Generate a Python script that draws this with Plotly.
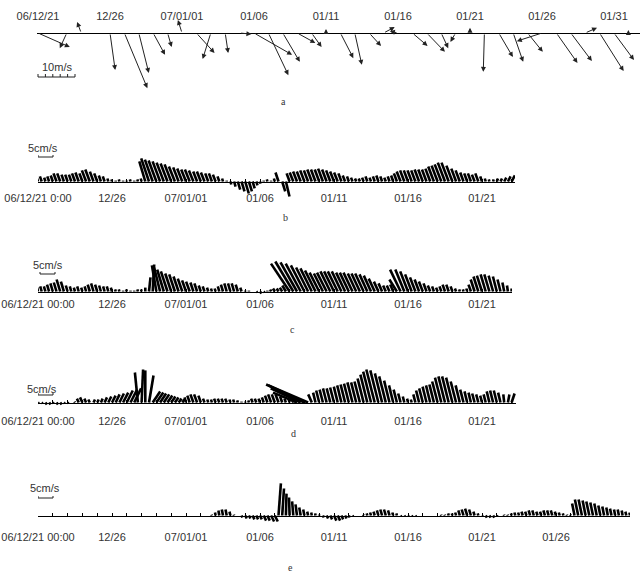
import plotly.graph_objects as go

# ------------------------------------------------------------------
# DATA
# Panel a: daily wind vectors (m/s), east (u) and north (v) components
wind_u = [8.6, 0.0, -1.9, -1.1, -0.3, 1.4, 6.2, 2.7, 3.2, 1.1,
          -1.1, 4.9, -2.2, 0.8, 3.2, 10.3, 5.4, 4.6, 4.9, 2.7,
          0.0, 3.5, 1.9, 3.2, 3.0, -2.2, 4.1, 4.9, 1.9, -1.4,
          0.0, -0.3, 3.8, 2.7, 4.1, -6.8, 5.7, 5.7, 3.2, 6.5,
          5.4, 0.0]
wind_v = [-3.8, -0.6, -4.1, 3.0, 0.5, -10.0, -14.9, -10.8, -5.9, -3.8,
          3.5, -5.4, -7.0, -5.4, -0.3, -5.9, -11.4, -7.8, -2.7, -3.8,
          1.1, -6.8, -8.6, -3.5, 1.6, 0.5, -3.5, -5.1, -4.1, -2.4,
          1.4, -10.5, -6.5, -7.8, -5.1, -2.2, -8.1, -7.6, 1.4, -10.3,
          -7.3, 0.8]
wind_step = 1.0          # days between wind vectors

# Panels b-e: 6-hourly current vectors (cm/s)
cur_step = 0.25          # days between current vectors

b_u = [-0.3, -0.6, -0.4, -0.6, -0.7, -1.0, -1.0, -0.8, -0.8, -0.8,
       -1.0, -1.1, -1.0, -1.4, -1.5, -1.2, -1.0, -0.7, -0.6, -0.3,
       -0.2, 0.0, -0.2, 0.0, 0.0, -0.2, 0.0, -0.2, -0.3, -2.0,
       -2.6, -2.6, -2.6, -2.5, -2.4, -2.3, -2.2, -2.0, -1.8, -1.7,
       -1.6, -1.6, -1.5, -1.3, -1.3, -1.2, -1.0, -1.0, -0.9, -0.6,
       -0.3, 0.0, 0.3, 0.5, 0.8, 1.0, 1.2, 1.0, 0.7, 0.4,
       0.2, 0.0, -0.2, 0.0, -0.3, -1.0, 1.0, 1.2, -1.0, -1.2,
       -1.3, -1.3, -1.4, -1.4, -1.5, -1.5, -1.5, -1.6, -1.5, -1.4,
       -1.3, -1.2, -1.0, -0.8, -0.6, -0.5, -0.4, -0.4, -0.5, -0.6,
       -0.5, -0.6, -0.7, -0.6, -0.5, -0.6, -0.7, -1.0, -1.3, -1.4,
       -1.4, -1.4, -1.4, -1.5, -1.5, -1.5, -1.6, -1.9, -2.0, -2.2,
       -2.4, -2.4, -2.0, -1.6, -1.4, -1.1, -1.0, -1.0, -0.9, -1.0,
       -0.6, -0.3, -0.2, 0.2, 0.4, 0.5, 0.7, 0.9, 1.1]
b_v = [1.0, 1.7, 1.3, 1.7, 2.0, 2.7, 2.7, 2.3, 2.3, 2.3,
       2.7, 3.0, 2.7, 3.7, 4.0, 3.3, 2.7, 2.0, 1.7, 1.0,
       0.7, 0.3, 0.7, 0.3, 0.3, 0.7, 0.3, 0.7, 1.0, 6.7,
       7.7, 7.3, 7.0, 6.7, 6.3, 6.0, 5.7, 5.0, 4.7, 4.3,
       4.0, 4.0, 3.7, 3.3, 3.3, 3.0, 2.7, 2.7, 2.3, 1.7,
       1.0, 0.3, -1.0, -1.7, -2.7, -3.3, -4.0, -3.3, -2.3, -1.3,
       -0.7, 0.3, 0.7, 0.3, 1.0, 3.0, -3.3, -5.0, 2.7, 3.0,
       3.3, 3.3, 3.7, 3.7, 4.0, 4.0, 4.0, 4.3, 4.0, 3.7,
       3.3, 3.0, 2.7, 2.0, 1.7, 1.3, 1.0, 1.0, 1.3, 1.7,
       1.3, 1.7, 2.0, 1.7, 1.3, 1.7, 2.0, 2.7, 3.3, 3.7,
       3.7, 3.7, 3.7, 4.0, 4.0, 4.0, 4.3, 5.0, 5.3, 5.7,
       6.3, 6.3, 5.3, 4.3, 3.7, 3.0, 2.7, 2.7, 2.3, 2.7,
       1.7, 1.0, 0.7, 0.7, 1.0, 1.0, 1.3, 1.7, 2.0]

c_u = [-0.3, -0.5, -0.5, -0.7, -0.8, -0.9, -1.2, -1.0, -0.6, -0.5,
       -0.4, -0.5, -0.4, -0.5, -0.7, -0.8, -0.7, -0.6, -0.5, -0.5,
       -0.4, -0.2, -0.2, 0.0, -0.2, 0.0, 0.0, -0.2, -0.2, 0.0,
       0.5, 0.5, -1.5, -2.0, -2.2, -2.2, -2.0, -1.9, -1.7, -1.5,
       -1.3, -1.2, -1.0, -0.9, -0.7, -0.6, -0.4, -0.3, -0.3, -0.5,
       -0.7, -0.8, -0.8, -0.8, -0.7, -0.4, 0.0, 0.0, 0.0, 0.3,
       0.5, 0.3, 0.0, -0.3, -0.6, -0.6, -0.8, -1.2, -6.2, -6.0,
       -5.5, -5.0, -4.5, -4.0, -3.8, -3.5, -3.2, -3.0, -3.2, -3.3,
       -3.3, -3.3, -3.2, -3.0, -3.0, -3.0, -2.8, -2.8, -2.8, -2.6,
       -2.4, -2.0, -1.5, -1.2, -0.9, -0.9, -1.0, -2.5, -3.5, -3.0,
       -2.6, -2.2, -1.8, -1.5, -1.3, -1.0, -0.8, -0.6, -0.5, -0.6,
       -0.8, -0.8, -0.6, -0.4, -0.2, -0.2, -0.3, -0.8, -1.3, -1.6,
       -1.7, -1.7, -1.7, -1.5, -1.3, -1.0, -0.6, -0.3, 0.0]
c_v = [1.3, 1.7, 1.7, 2.3, 2.7, 3.0, 4.0, 3.3, 2.0, 1.7,
       1.3, 1.7, 1.3, 1.7, 2.3, 2.7, 2.3, 2.0, 1.7, 1.7,
       1.3, 0.7, 0.7, 0.3, 0.7, 0.3, 0.3, 0.7, 0.7, 1.3,
       4.7, 9.0, 8.7, 8.0, 7.3, 6.7, 6.0, 5.7, 5.0, 4.3,
       3.7, 3.3, 3.0, 2.7, 2.0, 1.7, 1.3, 1.0, 1.0, 1.7,
       2.3, 2.7, 2.7, 2.7, 2.3, 1.3, 0.3, 0.3, 0.0, -0.3,
       -0.7, -0.3, 0.3, 0.7, 1.0, 1.0, 1.3, 2.0, 9.3, 10.0,
       9.7, 9.3, 8.7, 8.0, 7.7, 7.0, 6.3, 6.0, 6.3, 6.7,
       6.7, 6.7, 6.7, 6.3, 6.3, 6.3, 6.0, 6.0, 6.0, 5.7,
       5.3, 4.3, 3.3, 2.7, 2.0, 2.0, 2.3, 4.0, 7.3, 7.3,
       6.7, 5.7, 4.7, 4.0, 3.3, 2.7, 2.0, 1.7, 1.3, 1.7,
       2.3, 2.3, 1.7, 1.0, 0.7, 0.7, 1.0, 2.3, 4.0, 5.0,
       5.3, 5.7, 5.7, 5.3, 5.0, 4.0, 3.0, 2.0, 1.0]

d_u = [0.3, 0.3, 0.5, 0.5, 0.3, 0.5, 0.5, 0.3, 0.3, 0.0,
       -0.2, -0.6, -0.8, -0.6, -0.5, 0.5, 0.5, 0.6, 0.8, 1.0,
       1.2, 1.3, 1.5, 1.7, 2.0, 2.2, 2.3, -1.0, 0.5, 0.0,
       1.5, 2.5, 2.3, 2.0, 1.8, 1.6, 1.4, 1.2, 1.0, 0.7,
       -0.5, -0.8, -1.0, -1.0, -0.8, -0.5, -0.3, -0.3, -0.5, -0.5,
       -0.5, -0.5, -0.3, -0.3, -0.2, 0.0, 0.0, -0.2, -0.5, -0.5,
       -0.5, -0.6, -0.8, -1.0, -1.0, -1.0, -0.7, -0.5, -0.3, -0.5,
       -8.0, -10.0, -12.0, -14.0, -1.2, -0.8, -1.0, -1.1, -1.2, -1.2,
       -1.3, -1.3, -1.4, -1.5, -1.6, -1.7, -1.7, -1.8, -2.0, -2.3,
       -2.6, -2.8, -2.7, -2.4, -2.2, -1.8, -1.4, -1.1, -0.8, -0.5,
       -0.3, -0.3, -0.7, -1.0, -1.2, -1.3, -1.4, -1.5, -1.8, -2.1,
       -2.2, -2.2, -2.1, -1.8, -1.4, -1.1, -0.9, -0.8, -0.8, -0.7,
       -0.6, -0.7, -0.9, -1.0, -1.0, -0.8, -0.3, 0.5, 1.0]
d_v = [-0.3, -0.3, -0.7, -0.7, -0.3, -0.7, -0.7, -0.3, -0.3, 0.0,
       0.3, 1.3, 1.7, 1.3, 1.0, 1.0, 1.0, 1.3, 1.7, 2.0,
       2.3, 2.7, 3.0, 3.3, 4.0, 4.3, 4.7, 10.0, 11.0, 10.7,
       9.0, 3.7, 3.3, 3.0, 2.7, 2.3, 2.0, 1.7, 1.3, 1.0,
       1.7, 2.3, 2.7, 2.7, 2.3, 1.3, 1.0, 1.0, 1.3, 1.3,
       1.3, 1.3, 1.0, 1.0, 0.7, 0.3, 0.3, 0.7, 1.3, 1.3,
       1.3, 1.7, 2.3, 2.7, 2.7, 2.7, 2.0, 1.3, 1.0, 1.3,
       3.3, 4.7, 5.7, 6.0, 2.7, 3.3, 4.0, 4.3, 4.7, 4.7,
       5.0, 5.3, 5.7, 6.0, 6.3, 6.7, 6.7, 7.0, 8.0, 9.3,
       10.3, 11.0, 10.7, 9.7, 8.7, 7.3, 5.7, 4.3, 3.0, 2.0,
       1.3, 1.0, 2.7, 4.0, 4.7, 5.3, 5.7, 6.0, 7.0, 8.3,
       8.7, 8.7, 8.3, 7.0, 5.7, 4.3, 3.7, 3.3, 3.0, 2.7,
       2.3, 2.7, 3.7, 4.0, 4.0, 3.3, 2.7, 2.7, 3.0]

e_u = [0.0] * 47 + [
       -0.1, -0.2, -0.3, -0.4, -0.4, -0.3, -0.1, 0.0,
       0.3, 0.5, 0.5, 0.6, 0.6, 0.6, 0.8, 0.8, 1.0, 1.0,
       0.8, 0.6, 0.2, -0.2, -0.4, -0.5, -0.5, -0.4, -0.3, -0.2, -0.1, 0.0,
       0.3, 0.5, 0.6, 0.8, 0.8, 0.6, 0.5, 0.3, 0.2, 0.0, 0.0,
       -0.1, -0.2, -0.3, -0.4, -0.5, -0.6, -0.6, -0.5, -0.3, -0.2,
       0.2, 0.2, 0.2, 0.2, 0.2, 0.0, 0.0, 0.0, 0.0, 0.0, 0.0,
       -0.1, -0.1, -0.2, -0.2, -0.3, -0.5, -0.6, -0.7, -0.6, -0.4, -0.2,
       0.2, 0.4, 0.4, 0.4, 0.2, 0.0,
       -0.1, -0.1, -0.2, -0.3, -0.3, -0.4, -0.4, -0.5, -0.5, -0.4,
       -0.4, -0.5, -0.5, -0.5, -0.4, -0.3, -0.2, -0.1, -0.1,
       -0.8, -1.1, -1.1, -1.0, -1.0, -0.9, -0.8, -0.7, -0.6, -0.5,
       -0.5, -0.4, -0.4, -0.3, -0.3, -0.2]
e_v = [0.0] * 47 + [
       0.3, 1.0, 1.7, 2.0, 2.0, 1.3, 0.3, 0.0,
       -0.7, -1.0, -1.0, -1.3, -1.3, -1.3, -1.7, -1.7, -2.0, -2.0,
       10.7, 9.0, 7.3, 6.0, 4.7, 3.7, 2.7, 2.0, 1.3, 1.0, 0.7, 0.3,
       -0.7, -1.0, -1.3, -1.7, -1.7, -1.3, -1.0, -0.7, -0.3, 0.0, 0.0,
       0.3, 0.7, 1.0, 1.3, 1.7, 2.0, 2.0, 1.7, 1.0, 0.7,
       -0.3, -0.3, -0.3, -0.3, -0.3, 0.0, 0.0, 0.0, 0.0, 0.0, 0.0,
       0.3, 0.3, 0.7, 0.7, 1.0, 1.7, 2.0, 2.3, 2.0, 1.3, 0.7,
       -0.3, -0.7, -0.7, -0.7, -0.3, 0.0,
       0.3, 0.3, 0.7, 1.0, 1.0, 1.3, 1.3, 1.7, 1.7, 1.3,
       1.3, 1.7, 1.7, 1.7, 1.3, 1.0, 0.7, 0.3, 0.3,
       4.0, 5.3, 5.3, 5.0, 4.7, 4.3, 4.0, 3.3, 3.0, 2.7,
       2.3, 2.0, 2.0, 1.7, 1.3, 1.0]

# tick labels (day offsets from 2006-12-21 00:00)
label_days_a = [0, 5, 10, 15, 20, 25, 30, 35, 40]
labels_a = ["06/12/21", "12/26", "07/01/01", "01/06", "01/11",
            "01/16", "01/21", "01/26", "01/31"]
label_days_cur = [0, 5, 10, 15, 20, 25, 30, 35]
labels_b = ["06/12/21 0:00", "12/26", "07/01/01", "01/06", "01/11",
            "01/16", "01/21"]
labels_cde = ["06/12/21 00:00", "12/26", "07/01/01", "01/06", "01/11",
              "01/16", "01/21", "01/26"]
scale_wind = 10     # m/s
scale_cur = 5       # cm/s

# ------------------------------------------------------------------
# LAYOUT (pixel geometry of each panel)
W, H = 640, 574
X0 = 38
FONT = "Liberation Sans, Arial, sans-serif"
cfg = {
    'a': dict(axis=33, top=0, bottom=96, left=37, right=640, ppd=14.4, ppu=3.7, standoff=9),
    'b': dict(axis=181.5, top=136, bottom=214, left=38, right=515, ppd=14.8, ppu=3.0, standoff=6),
    'c': dict(axis=291.5, top=245, bottom=306, left=38, right=512, ppd=14.8, ppu=3.0, standoff=2),
    'd': dict(axis=402.5, top=352, bottom=416, left=38, right=516, ppd=14.8, ppu=3.0, standoff=8),
    'e': dict(axis=515.5, top=474, bottom=530, left=38, right=630, ppd=14.8, ppu=3.0, standoff=11),
}
order = ['a', 'b', 'c', 'd', 'e']

fig = go.Figure()
layout = dict(width=W, height=H,
              margin=dict(l=0, r=0, t=0, b=0, pad=0, autoexpand=False),
              paper_bgcolor='white', plot_bgcolor='rgba(0,0,0,0)',
              showlegend=False, annotations=[])

def px2px(x):
    return x / W

def py2py(y):
    return 1 - y / H

for i, key in enumerate(order, start=1):
    c = cfg[key]
    sfx = '' if i == 1 else str(i)
    xr = [(c['left'] - X0) / c['ppd'], (c['right'] - X0) / c['ppd']]
    yr = [-(c['bottom'] - c['axis']) / c['ppu'], (c['axis'] - c['top']) / c['ppu']]
    if key == 'a':
        tv, tt = label_days_a, labels_a
        side, ticks = 'top', ''
    else:
        n = int(xr[1])
        tv = list(range(0, n + 1))
        labs = labels_b if key == 'b' else labels_cde
        lab_map = dict(zip(label_days_cur, labs))
        tt = [lab_map.get(t, '') for t in tv]
        side, ticks = 'bottom', 'inside'
    layout['xaxis' + sfx] = dict(
        domain=[c['left'] / W, c['right'] / W], range=xr, anchor='free',
        position=py2py(c['axis']), side=side, showline=True, linecolor='black',
        linewidth=1, showgrid=False, zeroline=False, tickmode='array',
        tickvals=tv, ticktext=tt, ticks=ticks, ticklen=3, tickwidth=1,
        tickcolor='black', ticklabelstandoff=c['standoff'], automargin=False,
        tickfont=dict(family=FONT, size=11, color='#333'), fixedrange=True)
    layout['yaxis' + sfx] = dict(
        domain=[py2py(c['bottom']), py2py(c['top'])], range=yr,
        visible=False, fixedrange=True, anchor='x' + sfx, automargin=False)

# ---- panel a: wind arrows ----
ca = cfg['a']
ka = ca['ppu'] / ca['ppd']
for j, (u, v) in enumerate(zip(wind_u, wind_v)):
    t = j * wind_step
    layout['annotations'].append(dict(
        x=t + u * ka, y=v, ax=t, ay=0, xref='x', yref='y', axref='x', ayref='y',
        text='', showarrow=True, arrowhead=2, arrowsize=1, arrowwidth=1,
        arrowcolor='#222', standoff=0))

# wind scale bar
yb = -(77 - ca['axis']) / ca['ppu']
sx, sy = [0, scale_wind * ka, None], [yb, yb, None]
for s in range(0, scale_wind + 1, 2):
    sx += [s * ka, s * ka, None]
    sy += [yb, yb + 3 / ca['ppu'], None]
fig.add_trace(go.Scatter(x=sx, y=sy, mode='lines', line=dict(color='#222', width=1),
                         hoverinfo='skip', xaxis='x', yaxis='y'))

# ---- panels b-e: current sticks ----
cur = {'b': (b_u, b_v), 'c': (c_u, c_v), 'd': (d_u, d_v), 'e': (e_u, e_v)}
bracket_rows = {'b': (157, 0.0), 'c': (274, 2.0), 'd': (395, 0.0), 'e': (498, 0.0)}
for i, key in enumerate(order[1:], start=2):
    c = cfg[key]
    k = c['ppu'] / c['ppd']
    uu, vv = cur[key]
    xs, ys = [], []
    for j, (u, v) in enumerate(zip(uu, vv)):
        t = j * cur_step
        xs += [t, t + u * k, None]
        ys += [0, v, None]
    fig.add_trace(go.Scatter(x=xs, y=ys, mode='lines',
                             line=dict(color='black', width=2.6),
                             hoverinfo='skip', xaxis='x%d' % i, yaxis='y%d' % i))
    row, dxp = bracket_rows[key]
    yb = (c['axis'] - row) / c['ppu']
    x0 = dxp / c['ppd']
    hb = 2 / c['ppu']
    fig.add_trace(go.Scatter(x=[x0, x0, x0 + scale_cur * k, x0 + scale_cur * k],
                             y=[yb + hb, yb, yb, yb + hb], mode='lines',
                             line=dict(color='#222', width=1), hoverinfo='skip',
                             xaxis='x%d' % i, yaxis='y%d' % i))

# ---- texts ----
def add_text(txt, x, y, size=11, family=FONT):
    layout['annotations'].append(dict(
        text=txt, x=px2px(x), y=py2py(y), xref='paper', yref='paper',
        showarrow=False, xanchor='center', yanchor='middle',
        font=dict(family=family, size=size, color='#333')))

add_text('10m/s', 57, 67)
add_text('5cm/s', 43, 148)
add_text('5cm/s', 48, 265)
add_text('5cm/s', 42, 389)
add_text('5cm/s', 45, 488)
SERIF = "Liberation Serif, Times New Roman, serif"
add_text('a', 283, 101, 10, SERIF)
add_text('b', 285, 217, 10, SERIF)
add_text('c', 292, 329, 10, SERIF)
add_text('d', 293, 433, 10, SERIF)
add_text('e', 290, 567, 10, SERIF)

fig.update_layout(**layout)
fig.write_html("out.html",
               config={'displayModeBar': False, 'staticPlot': True},
               post_script="document.body.style.margin='0';"
                           "document.body.style.overflow='hidden';")
